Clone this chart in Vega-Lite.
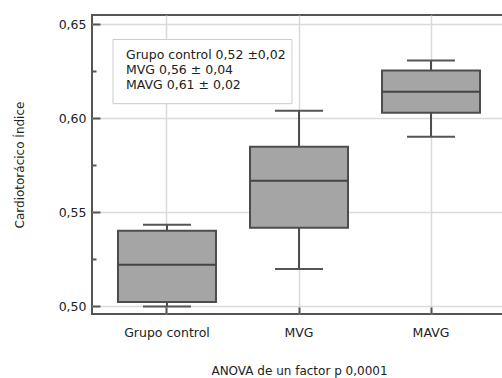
{
  "$schema": "https://vega.github.io/schema/vega-lite/v6.json",
  "autosize": {"type": "none"},
  "padding": {"left": 92, "top": 15, "right": 0, "bottom": 64},
  "width": 414,
  "height": 299,
  "background": "white",
  "config": {
    "font": "DejaVu Sans",
    "view": {"stroke": "#555555", "strokeWidth": 2},
    "axis": {"labelFont": "DejaVu Sans", "titleFont": "DejaVu Sans", "labelFontSize": 12.5, "titleFontSize": 12, "titleFontWeight": "normal", "labelColor": "#222222", "titleColor": "#222222"}
  },
  "datasets": {
    "boxes": [
      {"grupo": "Grupo control", "min": 0.5000, "q1": 0.5024, "med": 0.5221, "q3": 0.5402, "max": 0.5434},
      {"grupo": "MVG", "min": 0.5199, "q1": 0.5418, "med": 0.5668, "q3": 0.5848, "max": 0.6040},
      {"grupo": "MAVG", "min": 0.5902, "q1": 0.6029, "med": 0.6141, "q3": 0.6253, "max": 0.6306}
    ],
    "legend": [
      {"line": "Grupo control 0,52 ±0,02", "y": 0.6338},
      {"line": "MVG 0,56 ± 0,04", "y": 0.6257},
      {"line": "MAVG 0,61 ± 0,02", "y": 0.6178}
    ],
    "legendbox": [
      {"x0": 0.0507, "x1": 0.483, "y0": 0.6077, "y1": 0.6418}
    ]
  },
  "layer": [
    {
      "data": {"name": "boxes"},
      "layer": [
        {
          "mark": {"type": "rule", "color": "#4d4d4d", "strokeWidth": 2},
          "encoding": {
            "x": {"field": "grupo", "type": "nominal", "sort": ["Grupo control", "MVG", "MAVG"],
              "scale": {"type": "band", "paddingInner": 0, "paddingOuter": 0.068},
              "axis": {"title": "ANOVA de un factor  p 0,0001", "labelAngle": 0, "bandPosition": 0.5, "domain": false,
                "grid": true, "gridColor": "#dadada", "gridWidth": 1.5, "tickColor": "#555555", "tickWidth": 2, "tickSize": -7,
                "labelPadding": 19, "titlePadding": 27}},
            "y": {"field": "min", "type": "quantitative",
              "scale": {"domain": [0.496, 0.6548], "nice": false, "zero": false},
              "axis": {"title": "Cardiotorácico Índice", "domain": false, "values": [0.5, 0.525, 0.55, 0.575, 0.6, 0.625, 0.65],
                "labelExpr": "round(datum.value*1000) % 50 == 0 ? replace(format(datum.value, '.2f'), '.', ',') : ''",
                "grid": true, "gridColor": "#dadada", "gridWidth": 1.5,
                "gridOpacity": {"condition": {"test": "round(datum.value*1000) % 50 != 0", "value": 0}, "value": 1},
                "tickColor": "#555555", "tickWidth": 2,
                "tickSize": {"condition": {"test": "round(datum.value*1000) % 50 != 0", "value": -4}, "value": -8},
                "labelPadding": 14, "titlePadding": 32}},
            "y2": {"field": "max"}
          }
        },
        {
          "mark": {"type": "bar", "size": 98, "fill": "#a5a5a5", "stroke": "#4d4d4d", "strokeWidth": 2},
          "encoding": {
            "x": {"field": "grupo", "type": "nominal", "sort": ["Grupo control", "MVG", "MAVG"]},
            "y": {"field": "q1", "type": "quantitative"},
            "y2": {"field": "q3"}
          }
        },
        {
          "mark": {"type": "tick", "size": 98, "thickness": 2, "color": "#444444", "opacity": 1},
          "encoding": {
            "x": {"field": "grupo", "type": "nominal", "sort": ["Grupo control", "MVG", "MAVG"]},
            "y": {"field": "med", "type": "quantitative"}
          }
        },
        {
          "mark": {"type": "tick", "size": 48, "thickness": 2, "color": "#555555", "opacity": 1},
          "encoding": {
            "x": {"field": "grupo", "type": "nominal", "sort": ["Grupo control", "MVG", "MAVG"]},
            "y": {"field": "max", "type": "quantitative"}
          }
        },
        {
          "mark": {"type": "tick", "size": 48, "thickness": 2, "color": "#555555", "opacity": 1},
          "encoding": {
            "x": {"field": "grupo", "type": "nominal", "sort": ["Grupo control", "MVG", "MAVG"]},
            "y": {"field": "min", "type": "quantitative"}
          }
        }
      ]
    },
    {
      "layer": [
        {
          "data": {"name": "legendbox"},
          "mark": {"type": "rect", "fill": "white", "stroke": "#cccccc", "strokeWidth": 1},
          "encoding": {
            "x": {"field": "x0", "type": "quantitative", "scale": {"domain": [0, 1], "nice": false, "zero": false}, "axis": null},
            "x2": {"field": "x1"},
            "y": {"field": "y0", "type": "quantitative"},
            "y2": {"field": "y1"}
          }
        },
        {
          "data": {"name": "legend"},
          "mark": {"type": "text", "align": "left", "baseline": "middle", "font": "DejaVu Sans", "fontSize": 12.5, "color": "#222222"},
          "encoding": {
            "x": {"datum": 0.0821, "type": "quantitative"},
            "y": {"field": "y", "type": "quantitative"},
            "text": {"field": "line"}
          }
        }
      ]
    }
  ],
  "resolve": {"scale": {"x": "independent"}, "axis": {"x": "independent"}}
}
